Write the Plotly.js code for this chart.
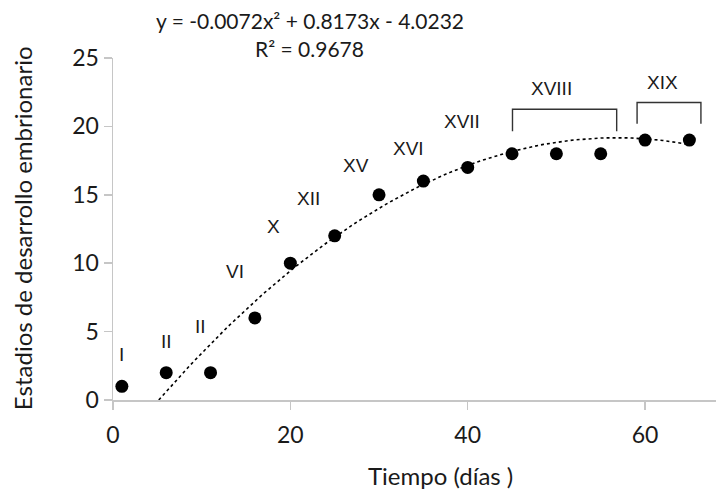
<!DOCTYPE html>
<html>
<head>
<meta charset="utf-8">
<script src="https://cdn.plot.ly/plotly-3.0.1.min.js"></script>
<style>html,body{margin:0;padding:0;background:#fff;}#chart{width:722px;height:490px;}</style>
</head>
<body>
<div id="chart"></div>
<script>
// Data
const dias = [1, 6, 11, 16, 20, 25, 30, 35, 40, 45, 50, 55, 60, 65];
const estadios = [1, 2, 2, 6, 10, 12, 15, 16, 17, 18, 18, 18, 19, 19];

// Polynomial trendline coefficients (as printed in the chart): a x^2 + b x + c
const coefs = [-0.0072, 0.8173, -4.0232];
const trendRange = [5.16, 65];

// Stage labels
const labelText = ['I', 'II', 'II', 'VI', 'X', 'XII', 'XV', 'XVI', 'XVII', 'XVIII', 'XIX'];
const labelX = [0.95, 6.0, 9.85, 13.8, 18.1, 22.1, 27.4, 33.3, 39.4, 49.4, 61.95];
const labelY = [3.3, 4.25, 5.35, 9.4, 12.65, 14.7, 17.15, 18.4, 20.35, 22.75, 23.2];

// Brackets: [x start, x end, y bottom of legs, y top]
const bracketX0 = [45.05, 59.1];
const bracketX1 = [56.8, 66.3];
const bracketYb = [19.65, 20.2];
const bracketYt = [21.25, 21.75];

const eqText = 'y = -0.0072x² + 0.8173x - 4.0232';
const r2Text = 'R² = 0.9678';
const xTitle = 'Tiempo (días )';
const yTitle = 'Estadios de desarrollo embrionario';

const tx = [], ty = [];
const nSteps = 120;
for (let i = 0; i <= nSteps; i++) {
  const x = trendRange[0] + (trendRange[1] - trendRange[0]) * i / nSteps;
  tx.push(x);
  ty.push(coefs[0] * x * x + coefs[1] * x + coefs[2]);
}

const traces = [
  {x: tx, y: ty, mode: 'lines', type: 'scatter', hoverinfo: 'skip',
   line: {color: '#000', width: 1.6, dash: 'dot'}},
  {x: dias, y: estadios, mode: 'markers', type: 'scatter',
   marker: {color: '#000', size: 13}}
];

const txtColor = '#1a1a1a';
const annotations = labelText.map((t, i) => ({
  x: labelX[i], y: labelY[i], xref: 'x', yref: 'y', text: t, showarrow: false,
  xanchor: 'center', yanchor: 'middle',
  font: {family: "'Liberation Sans', Arial, sans-serif", size: 19, color: txtColor}
}));
annotations.push(
  {xref: 'paper', yref: 'paper', x: 0.326, y: 1.111, text: eqText, showarrow: false,
   xanchor: 'center', yanchor: 'middle',
   font: {family: 'Lato, sans-serif', size: 21, color: txtColor}},
  {xref: 'paper', yref: 'paper', x: 0.326, y: 1.029, text: r2Text, showarrow: false,
   xanchor: 'center', yanchor: 'middle',
   font: {family: 'Lato, sans-serif', size: 21, color: txtColor}},
  {xref: 'paper', yref: 'paper', x: 0.5425, y: -0.222, text: xTitle, showarrow: false,
   xanchor: 'center', yanchor: 'middle',
   font: {family: 'Lato, sans-serif', size: 24, color: txtColor}},
  {xref: 'paper', yref: 'paper', x: -0.149, y: 0.503, text: yTitle, textangle: -90, showarrow: false,
   xanchor: 'center', yanchor: 'middle',
   font: {family: 'Lato, sans-serif', size: 24, color: txtColor}}
);

const shapes = bracketX0.map((x0, i) => ({
  type: 'path', xref: 'x', yref: 'y',
  path: `M ${x0},${bracketYb[i]} L ${x0},${bracketYt[i]} L ${bracketX1[i]},${bracketYt[i]} L ${bracketX1[i]},${bracketYb[i]}`,
  line: {color: '#333', width: 1.4}
}));

const axisCommon = {
  showgrid: false, zeroline: false, showline: true, linecolor: '#c6c6c6', linewidth: 1.5,
  ticks: 'outside', ticklen: 8, tickcolor: '#c6c6c6', tickwidth: 1.5,
  tickfont: {family: 'Lato, sans-serif', size: 23, color: txtColor}, title: {text: ''}
};

const layout = {
  width: 722, height: 490,
  margin: {l: 113, r: 6, t: 58, b: 90},
  paper_bgcolor: '#fff', plot_bgcolor: '#fff',
  showlegend: false,
  font: {family: 'Lato, sans-serif', size: 21, color: txtColor},
  xaxis: Object.assign({range: [0, 68], tickvals: [0, 20, 40, 60], ticklabelstandoff: 6}, axisCommon),
  yaxis: Object.assign({range: [0, 25], tickvals: [0, 5, 10, 15, 20, 25]}, axisCommon),
  annotations: annotations,
  shapes: shapes
};

Plotly.newPlot('chart', traces, layout, {displayModeBar: false, staticPlot: true});
</script>
</body>
</html>
